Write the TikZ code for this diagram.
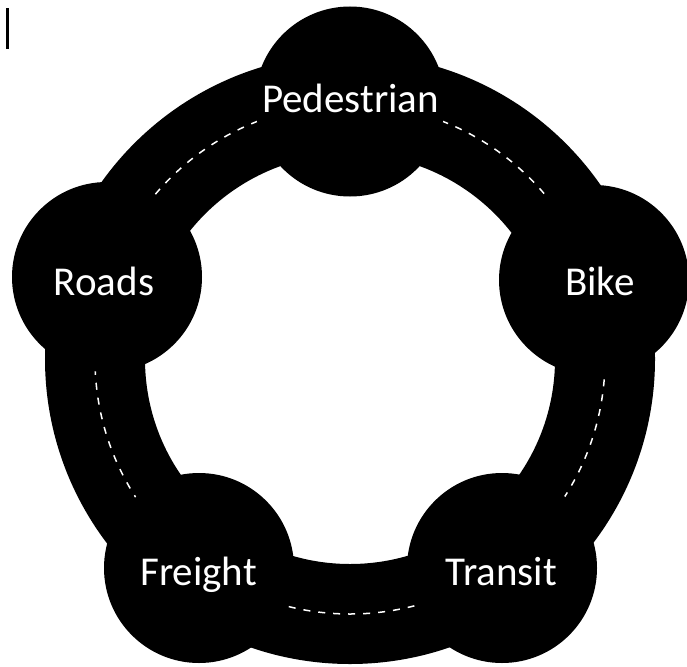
\documentclass[tikz,border=0pt]{standalone}
\usepackage{fontspec}
\setmainfont{Carlito}
\begin{document}
\begin{tikzpicture}[x=1pt,y=-1pt,
  hub/.style={circle,fill=black,inner sep=0pt,minimum size=190pt},
  lbl/.style={anchor=base,text=white,inner sep=0pt,font=\fontsize{41}{49}\selectfont},
  road/.style={draw=black,line width=100pt},
  lane/.style={draw=white,line width=1.5pt,dash pattern=on 7pt off 8pt}]
\useasboundingbox (0,0) rectangle (687,666);
\fill[black] (6,8) rectangle (9,49);
\coordinate (ctr) at (350,359);
\draw[road] (ctr) circle (255pt);
\draw[lane] (ctr) circle (255pt);
\node[hub] (cP) at (350,101.5) {};
\node[hub] (cB) at (594,280) {};
\node[hub] (cT) at (502,568) {};
\node[hub] (cF) at (199,568) {};
\node[hub] (cR) at (107,277) {};
\node[lbl] (tP) at (350.5,113) {Pedestrian};
\node[lbl] (tB) at (600,295) {Bike};
\node[lbl] (tT) at (501.5,585) {Transit};
\node[lbl] (tF) at (198.5,585) {Freight};
\node[lbl] (tR) at (104,295) {Roads};
\end{tikzpicture}
\end{document}
